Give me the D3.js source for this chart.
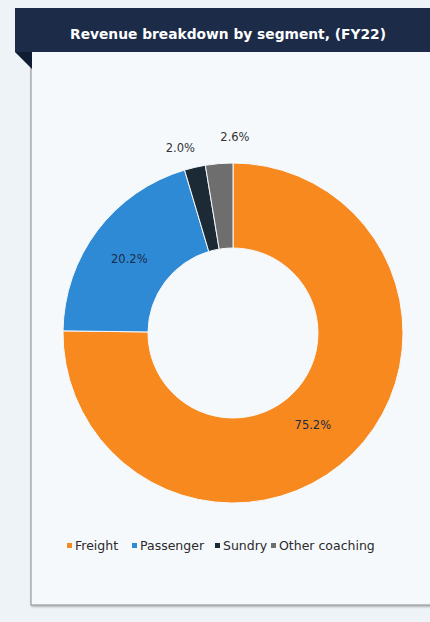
<!DOCTYPE html>
<html><head><meta charset="utf-8">
<script src="https://cdn.jsdelivr.net/npm/d3@7"></script>
<style>
html,body{margin:0;padding:0;background:#eef3f7;}
svg{display:block;font-family:"DejaVu Sans","Liberation Sans",Arial,sans-serif;}
</style></head>
<body><svg id="c" width="430" height="622"></svg>
<script>
const title = "Revenue breakdown by segment, (FY22)";
const categories = ["Freight","Passenger","Sundry","Other coaching"];
const values = [75.2,20.2,2.0,2.6];
const labels = ["75.2%","20.2%","2.0%","2.6%"];
const colors = ["#f7891e","#2f8ad6","#1c2a36","#6e6e6e"];

const svg = d3.select("#c");
const defs = svg.append("defs");
const f = defs.append("filter").attr("id","sh").attr("x","-5%").attr("y","-5%").attr("width","110%").attr("height","110%");
f.append("feDropShadow").attr("dx",1).attr("dy",1).attr("stdDeviation",1.2).attr("flood-color","#000").attr("flood-opacity",0.35);

// box
svg.append("rect").attr("x",31).attr("y",50).attr("width",420).attr("height",555)
  .attr("fill","#f6f9fc").attr("stroke","#9a9a9a").attr("stroke-width",1.2).attr("filter","url(#sh)");
// header band
svg.append("path").attr("d","M15,52 L32,52 L32,69 Z").attr("fill","#0f1c33");
svg.append("rect").attr("x",15).attr("y",8).attr("width",415).attr("height",44).attr("fill","#1b2b48");
svg.append("text").attr("x",228).attr("y",34).attr("text-anchor","middle").attr("dy","0.35em")
  .attr("fill","#ffffff").attr("font-weight","bold").attr("font-size",13.8).text(title);

const cx=233, cy=333, R=170, r0=85;
const data = categories.map((c,i)=>({cat:c,value:values[i],label:labels[i],color:colors[i]}));
const pie = d3.pie().value(d=>d.value).sort(null);
const arc = d3.arc().innerRadius(r0).outerRadius(R);
const arcs = pie(data);
const g = svg.append("g").attr("transform",`translate(${cx},${cy})`);
g.selectAll("path").data(arcs).join("path").attr("d",arc)
  .attr("fill",d=>d.data.color).attr("stroke","#f6f9fc").attr("stroke-width",1);

// labels
g.selectAll("text.l").data(arcs).join("text").attr("class","l")
  .attr("transform",(d,i)=>{
    let p;
    if(i===0){ p = d3.arc().innerRadius(125).outerRadius(125).centroid(d); p[0]-=8; p[1]+=3; }
    else if(i===1){ p = d3.arc().innerRadius(130).outerRadius(130).centroid(d); p[1]+=4; }
    else if(i===2){ p = d3.arc().innerRadius(190).outerRadius(190).centroid(d); p[0]-=10; }
    else { p = d3.arc().innerRadius(197).outerRadius(197).centroid(d); p[0]+=18; }
    return `translate(${p[0]},${p[1]})`;
  })
  .attr("text-anchor","middle").attr("dy","0.35em")
  .attr("font-size",11.5).attr("fill",(d,i)=>i<2?"#1a2a48":"#333").text(d=>d.data.label);

// legend
const legend = svg.append("g").attr("transform","translate(0,546)");
const xs = [67,132,215,271];
const li = legend.selectAll("g").data(data).join("g").attr("transform",(d,i)=>`translate(${xs[i]},0)`);
li.append("rect").attr("x",0).attr("y",-3).attr("width",5).attr("height",5).attr("fill",d=>d.color);
li.append("text").attr("x",8).attr("y",0).attr("dy","0.35em").attr("font-size",12.5).attr("fill","#2a2a2a").text(d=>d.cat);
</script></body></html>
